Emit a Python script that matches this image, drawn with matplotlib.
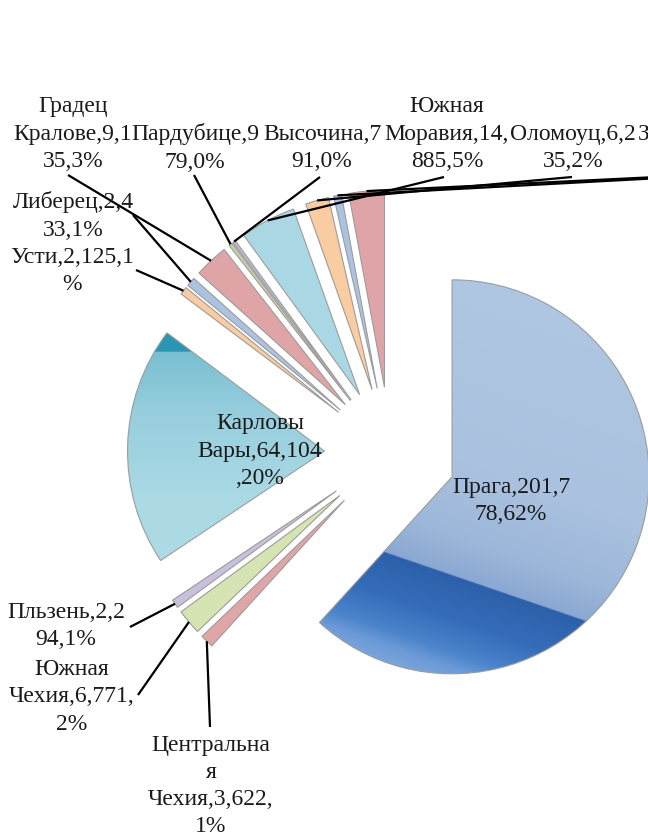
import matplotlib
matplotlib.use('Agg')
import matplotlib.pyplot as plt
import numpy as np
from matplotlib.colors import to_rgb

# ---------------- data ----------------
regions = ['Прага', 'Центральная Чехия', 'Южная Чехия', 'Пльзень', 'Карловы Вары',
           'Усти', 'Либерец', 'Градец Кралове', 'Пардубице', 'Высочина',
           'Южная Моравия', 'Оломоуц', 'Злин', 'Моравскосилезский']
values = [201778, 3622, 6771, 2294, 64104, 2125, 2433, 9135, 979, 791,
          14885, 6235, 2100, 9500]
labels = ['Прага,201,7\n78,62%', 'Центральна\nя\nЧехия,3,622,\n1%',
          'Южная\nЧехия,6,771,\n2%', 'Пльзень,2,2\n94,1%',
          'Карловы\nВары,64,104\n,20%', 'Усти,2,125,1\n%', 'Либерец,2,4\n33,1%',
          'Градец\nКралове,9,1\n35,3%', 'Пардубице,9\n79,0%', 'Высочина,7\n91,0%',
          'Южная\nМоравия,14,\n885,5%', 'Оломоуц,6,2\n35,2%', 'Злин,2,1\n00,1%', '']

# ---------------- style / layout ----------------
colors = ['#AEC6E2', '#DFA6A8', '#D6E4B4', '#C8C0DC', '#A9D8E4', '#F9CCA2',
          '#ABC3E0', '#DFA4A6', '#C3D0A8', '#C0BAD4', '#A9D8E4', '#F9CCA2',
          '#ABC3E0', '#DEA4A8']
W, H = 648, 838
# label centres (image pixel coords) and leader start points
label_pos = [(511, 501), (211, 786), (72, 697), (66, 626), (260, 451), (72, 271),
             (73, 216), (73, 134), (195, 148), (322, 148), (447, 134), (573, 148),
             (680, 148), None]
leader_start = [None, (210, 727), (138, 695), (130, 627), None, (136, 270),
                (133, 215), (68, 175), (194, 175), (320, 177), (444, 177),
                (572, 177), (680, 177), (760, 172)]

fig = plt.figure(figsize=(W / 100, H / 100), dpi=100)
ax = fig.add_axes([0, 0, 1, 1])

cx, cy = 390.5, H - 453
R, EXPL = 197, 66

wedges, _ = ax.pie(values, colors=colors, startangle=90, counterclock=False,
                   radius=R, center=(cx, cy), explode=[EXPL] * len(values),
                   frame=True,
                   wedgeprops=dict(edgecolor='#9c9c9c', linewidth=0.8))
ax.set_xlim(0, W)
ax.set_ylim(0, H)
ax.set_aspect('auto')
ax.axis('off')


def gradient(wedge, stops, p0, n):
    """fill wedge with linear gradient; stops in signed distance along n from p0"""
    (wx, wy), r = wedge.center, wedge.r
    xs = np.linspace(wx - r, wx + r, 500)
    ys = np.linspace(wy - r, wy + r, 500)
    X, Y = np.meshgrid(xs, ys)
    s = (X - p0[0]) * n[0] + (Y - p0[1]) * n[1]
    pos = np.array([p for p, _ in stops])
    cols = np.array([to_rgb(c) for _, c in stops])
    img = np.zeros(X.shape + (3,))
    for k in range(3):
        img[..., k] = np.interp(s, pos, cols[:, k])
    im = ax.imshow(img, extent=(wx - r, wx + r, wy - r, wy + r), origin='lower',
                   zorder=0.5, interpolation='bilinear')
    im.set_clip_path(wedge)
    wedge.set_facecolor('none')
    wedge.set_zorder(1)


# Prague gradient: sharp boundary line in lower part
nb = np.array([-0.324, -0.946])  # pointing "down-left" in data coords
gradient(wedges[0], [(-300, '#B0C7E3'), (-110, '#AAC2DF'), (-40, '#9DB7DA'),
                     (-1, '#8AA8D2'), (0, '#2D60AA'), (40, '#356CB9'),
                     (72, '#4A84CB'), (88, '#6D9BD8'), (120, '#86AEE0')],
         (383, H - 552), nb)
# Karlovy Vary gradient: dark corner at the top
gradient(wedges[4], [(-30, '#2A96B4'), (-0.5, '#2A96B4'), (0, '#78BFD2'),
                     (60, '#97CEDD'), (150, '#ABDAE5'), (300, '#AFDCE7')],
         (0, H - 352), (0, -1))

fs = 17
for i, w in enumerate(wedges):
    t = np.radians((w.theta1 + w.theta2) / 2)
    ax_, ay_ = w.center[0] + w.r * np.cos(t), w.center[1] + w.r * np.sin(t)
    if leader_start[i] is not None:
        sx, sy = leader_start[i]
        ax.plot([sx, ax_], [H - sy, ay_], color='black', lw=1.6, zorder=3,
                solid_capstyle='butt', clip_on=False)
    if label_pos[i] is not None and labels[i]:
        lx, ly = label_pos[i]
        ax.text(lx, H - ly, labels[i], ha='center', va='center', fontsize=fs,
                family=['Liberation Serif', 'DejaVu Serif'], color='#1a1a1a',
                linespacing=1.39, multialignment='center', zorder=4)

fig.savefig('out.png', dpi=100, facecolor='white')
